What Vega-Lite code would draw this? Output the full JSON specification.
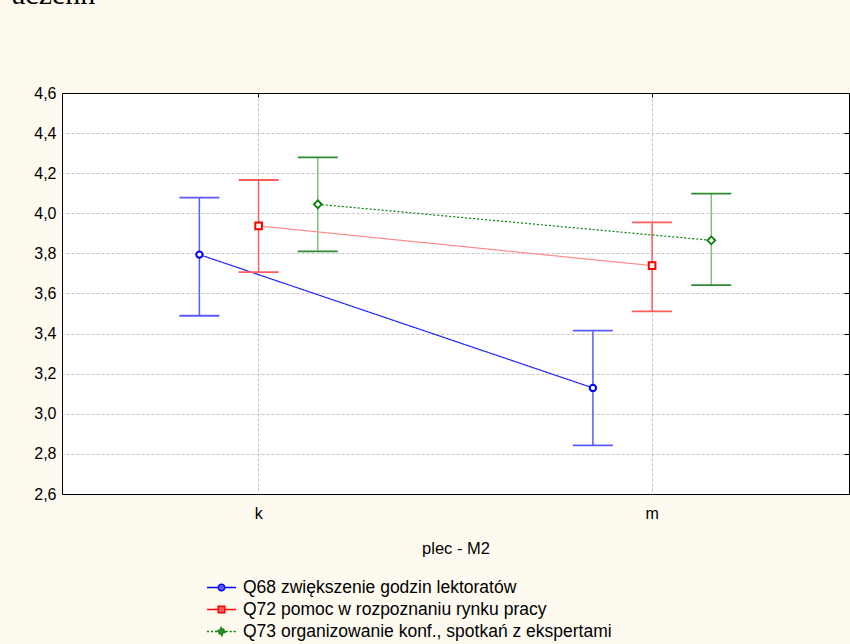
{
  "$schema": "https://vega.github.io/schema/vega-lite/v6.json",
  "width": 787,
  "height": 401,
  "autosize": {"type": "none"},
  "padding": {"left": 62, "top": 93, "right": 1, "bottom": 150},
  "background": "#fefaf0",
  "title": {"text": "aczenn", "anchor": "start", "frame": "group", "font": "Liberation Serif", "fontSize": 30, "fontWeight": "normal", "color": "#000000", "baseline": "top", "offset": 75, "dx": -50, "dy": 0},
  "config": {
    "view": {"stroke": "#000000", "strokeWidth": 1, "fill": "#ffffff"},
    "font": "Liberation Sans",
    "axis": {"labelFont": "Liberation Sans", "titleFont": "Liberation Sans", "labelFontSize": 16, "titleFontSize": 16.5, "labelColor": "#000000", "titleColor": "#000000", "titleFontWeight": "normal", "gridColor": "#c4c4c4", "gridDash": [3, 2], "gridWidth": 1},
    "legend": {"labelFont": "Liberation Sans", "labelFontSize": 17.5, "labelColor": "#000000", "labelLimit": 600, "symbolSize": 441, "symbolStrokeWidth": 1.5, "labelOffset": 10, "rowPadding": 2, "padding": 0}
  },
  "data": {"values": [
    {"plec": "k", "series": "Q68 zwiększenie godzin lektoratów", "mean": 3.794, "lo": 3.489, "hi": 4.078},
    {"plec": "m", "series": "Q68 zwiększenie godzin lektoratów", "mean": 3.129, "lo": 2.843, "hi": 3.415},
    {"plec": "k", "series": "Q72 pomoc w rozpoznaniu rynku pracy", "mean": 3.937, "lo": 3.707, "hi": 4.166},
    {"plec": "m", "series": "Q72 pomoc w rozpoznaniu rynku pracy", "mean": 3.739, "lo": 3.511, "hi": 3.955},
    {"plec": "k", "series": "Q73 organizowanie konf., spotkań z ekspertami", "mean": 4.045, "lo": 3.81, "hi": 4.279},
    {"plec": "m", "series": "Q73 organizowanie konf., spotkań z ekspertami", "mean": 3.865, "lo": 3.642, "hi": 4.098}
  ]},
  "resolve": {"scale": {"stroke": "independent"}, "axis": {"x": "independent", "y": "independent"}},
  "layer": [
    {
      "transform": [{"filter": "false"}],
      "mark": {"type": "point", "filled": false, "strokeWidth": 1.5, "opacity": 1},
      "encoding": {
        "x": {"field": "plec", "type": "nominal", "scale": {"type": "band", "paddingInner": 0, "paddingOuter": 0}, "axis": null},
        "y": {"field": "mean", "type": "quantitative", "scale": {"domain": [2.6, 4.6], "nice": false, "zero": false}, "axis": null},
        "color": {"field": "series", "type": "nominal", "scale": {"domain": ["Q68 zwiększenie godzin lektoratów", "Q72 pomoc w rozpoznaniu rynku pracy", "Q73 organizowanie konf., spotkań z ekspertami"], "range": ["#0000ff", "#ff0000", "#008000"]}, "legend": {"title": null, "orient": "none", "legendX": 148, "legendY": 483, "symbolSize": 441, "encode": {"symbols": {"update": {"fill": {"value": "#ffffff"}}}}}},
        "shape": {"field": "series", "type": "nominal", "scale": {"domain": ["Q68 zwiększenie godzin lektoratów", "Q72 pomoc w rozpoznaniu rynku pracy", "Q73 organizowanie konf., spotkań z ekspertami"], "range": ["M-1.38,0H-0.31M0.31,0H1.38M-0.31,0A0.31,0.31,0,1,1,0.31,0A0.31,0.31,0,1,1,-0.31,0Z", "M-1.38,0H-0.31M0.31,0H1.38M-0.31,-0.31H0.31V0.31H-0.31Z", "M-1.38,0H-0.4M0.4,0H1.38M-0.4,0L0,-0.4L0.4,0L0,0.4Z"]}},
        "strokeDash": {"field": "series", "type": "nominal", "scale": {"domain": ["Q68 zwiększenie godzin lektoratów", "Q72 pomoc w rozpoznaniu rynku pracy", "Q73 organizowanie konf., spotkań z ekspertami"], "range": [[1, 0], [1, 0], [2, 2]]}}
      }
    },
    {
      "mark": {"type": "rule", "strokeWidth": 1.5},
      "encoding": {
        "x": {"field": "plec", "type": "nominal", "axis": {"orient": "bottom", "title": "plec - M2", "labelAngle": 0, "grid": true, "ticks": false, "domain": false, "labelPadding": 11, "titlePadding": 19, "bandPosition": 0.5}},
        "xOffset": {"field": "series", "type": "nominal", "scale": {"type": "point", "padding": 0, "range": [137.4, 255.8], "domain": ["Q68 zwiększenie godzin lektoratów", "Q72 pomoc w rozpoznaniu rynku pracy", "Q73 organizowanie konf., spotkań z ekspertami"]}},
        "y": {"field": "lo", "type": "quantitative", "axis": {"orient": "left", "title": null, "values": [2.6, 2.8, 3.0, 3.2, 3.4, 3.6, 3.8, 4.0, 4.2, 4.4, 4.6], "labelExpr": "replace(format(datum.value, '.1f'), '.', ',')", "grid": false, "ticks": false, "domain": false, "labelPadding": 6}},
        "y2": {"field": "hi"},
        "stroke": {"field": "series", "type": "nominal", "scale": {"domain": ["Q68 zwiększenie godzin lektoratów", "Q72 pomoc w rozpoznaniu rynku pracy", "Q73 organizowanie konf., spotkań z ekspertami"], "range": ["#5a5aff", "#ff5c5c", "#7fbf7f"]}, "legend": null}
      }
    },
    {
      "mark": {"type": "line", "strokeWidth": 1.2},
      "encoding": {
        "x": {"field": "plec", "type": "nominal", "axis": {"orient": "top", "labels": false, "title": null, "grid": false, "domain": false, "ticks": true, "tickSize": -4, "tickColor": "#000000", "bandPosition": 0.5}},
        "xOffset": {"field": "series", "type": "nominal"},
        "y": {"field": "mean", "type": "quantitative", "axis": {"orient": "right", "labels": false, "title": null, "grid": true, "domain": false, "ticks": true, "tickSize": -5, "tickColor": "#000000", "values": [2.8, 3.0, 3.2, 3.4, 3.6, 3.8, 4.0, 4.2, 4.4]}},
        "stroke": {"field": "series", "type": "nominal", "scale": {"domain": ["Q68 zwiększenie godzin lektoratów", "Q72 pomoc w rozpoznaniu rynku pracy", "Q73 organizowanie konf., spotkań z ekspertami"], "range": ["#2424ff", "#ff8a8a", "#008000"]}, "legend": null},
        "strokeDash": {"field": "series", "type": "nominal", "legend": null}
      }
    },
    {
      "mark": {"type": "tick", "size": 40, "thickness": 1.8, "opacity": 1},
      "encoding": {
        "x": {"field": "plec", "type": "nominal", "axis": null},
        "xOffset": {"field": "series", "type": "nominal"},
        "y": {"field": "hi", "type": "quantitative", "axis": null},
        "fill": {"field": "series", "type": "nominal", "scale": {"domain": ["Q68 zwiększenie godzin lektoratów", "Q72 pomoc w rozpoznaniu rynku pracy", "Q73 organizowanie konf., spotkań z ekspertami"], "range": ["#5a5aff", "#ff5c5c", "#2e8b2e"]}, "legend": null}
      }
    },
    {
      "mark": {"type": "tick", "size": 40, "thickness": 1.8, "opacity": 1},
      "encoding": {
        "x": {"field": "plec", "type": "nominal", "axis": null},
        "xOffset": {"field": "series", "type": "nominal"},
        "y": {"field": "lo", "type": "quantitative", "axis": null},
        "fill": {"field": "series", "type": "nominal", "legend": null}
      }
    },
    {
      "transform": [{"filter": "datum.series == 'Q68 zwiększenie godzin lektoratów'"}],
      "mark": {"type": "point", "shape": "circle", "size": 40, "filled": false, "fill": "#ffffff", "strokeWidth": 2, "opacity": 1},
      "encoding": {
        "x": {"field": "plec", "type": "nominal", "axis": null},
        "xOffset": {"field": "series", "type": "nominal"},
        "y": {"field": "mean", "type": "quantitative", "axis": null},
        "color": {"field": "series", "type": "nominal", "legend": null}
      }
    },
    {
      "transform": [{"filter": "datum.series == 'Q72 pomoc w rozpoznaniu rynku pracy'"}],
      "mark": {"type": "point", "shape": "square", "size": 44, "filled": false, "fill": "#ffffff", "strokeWidth": 2, "opacity": 1},
      "encoding": {
        "x": {"field": "plec", "type": "nominal", "axis": null},
        "xOffset": {"field": "series", "type": "nominal"},
        "y": {"field": "mean", "type": "quantitative", "axis": null},
        "color": {"field": "series", "type": "nominal", "legend": null}
      }
    },
    {
      "transform": [{"filter": "datum.series == 'Q73 organizowanie konf., spotkań z ekspertami'"}],
      "mark": {"type": "point", "shape": "diamond", "size": 62, "filled": false, "fill": "#ffffff", "strokeWidth": 1.8, "opacity": 1},
      "encoding": {
        "x": {"field": "plec", "type": "nominal", "axis": null},
        "xOffset": {"field": "series", "type": "nominal"},
        "y": {"field": "mean", "type": "quantitative", "axis": null},
        "color": {"field": "series", "type": "nominal", "legend": null}
      }
    }
  ]
}
